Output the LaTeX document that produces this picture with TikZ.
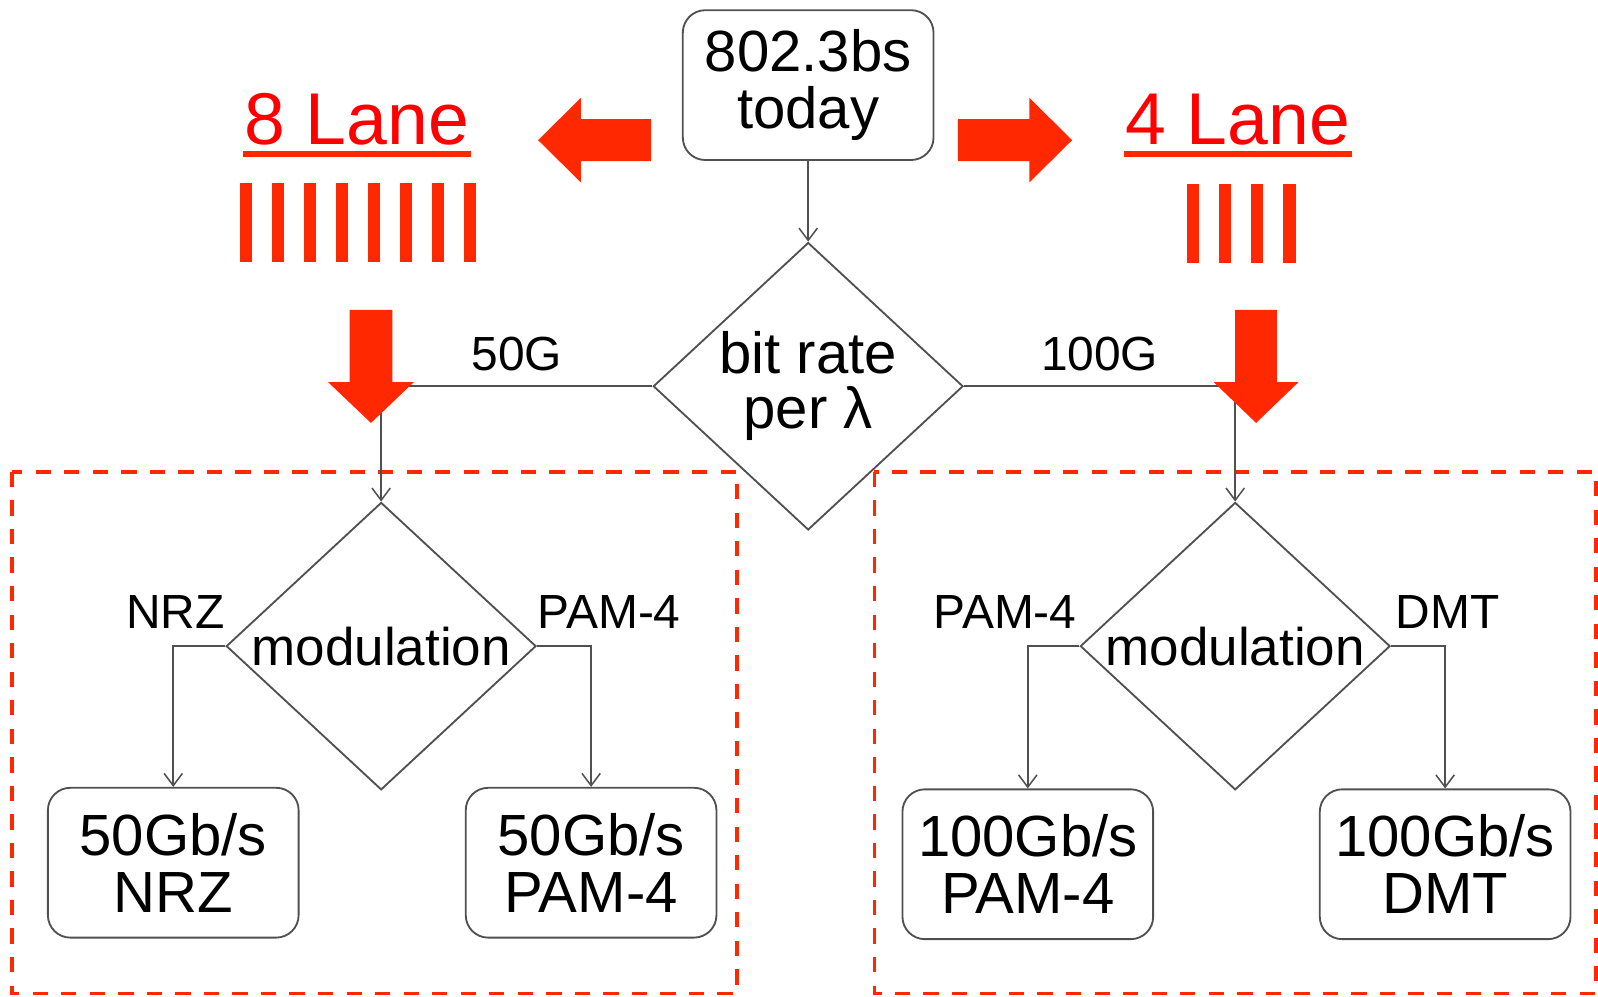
\documentclass[tikz,border=0pt]{standalone}
\usepackage{fontspec}
\setmainfont{Liberation Sans}
\usetikzlibrary{arrows.meta,shapes.geometric}
\definecolor{flagred}{RGB}{255,40,0}
\definecolor{textred}{RGB}{255,0,0}
\definecolor{edgegray}{RGB}{80,80,80}

\begin{document}
\begin{tikzpicture}[x=1pt,y=-1pt,
  roundbox/.style={draw=edgegray, line width=1.8pt, rounded corners=22pt, fill=white,
    minimum width=246pt, minimum height=147pt, inner sep=0pt, align=center,
    font=\fontsize{57pt}{56pt}\selectfont},
  decision/.style={draw=edgegray, line width=1.8pt, shape=diamond, aspect=1.08,
    minimum width=304pt, minimum height=282pt, inner sep=0pt, align=center},
  conn/.style={draw=edgegray, line width=1.5pt, -{Straight Barb[length=12pt,width=18pt]}},
  plain/.style={draw=edgegray, line width=1.5pt},
  branchlabel/.style={font=\fontsize{47pt}{50pt}\selectfont, inner sep=0pt},
  laneheading/.style={font=\fontsize{72pt}{80pt}\selectfont, text=textred, inner xsep=1.5pt, inner ysep=0pt, anchor=base},
  laneline/.style={draw=flagred, line width=5.5pt},
  groupframe/.style={draw=flagred, line width=3.5pt, dash pattern=on 15pt off 13pt},
  blockarrow/.style={fill=flagred}
]
% canvas
\fill[white] (0,0) rectangle (1568,978);
\useasboundingbox (0,0) rectangle (1568,978);

% dashed group frames
\draw[groupframe] (12,463) rectangle (723,975);
\draw[groupframe] (858,463) rectangle (1566,975);

% flow chart nodes
\node[roundbox] (today) at (793,83.5) {802.3bs\\today};
\node[decision, font=\fontsize{57pt}{54pt}\selectfont] (rate) at (793,379) {bit rate\\per λ};
\node[decision, font=\fontsize{52pt}{56pt}\selectfont] (modA) at (374,634) {modulation};
\node[decision, font=\fontsize{52pt}{56pt}\selectfont] (modB) at (1212,634) {modulation};
\node[roundbox] (nrz) at (170,846.5) {50Gb/s\\NRZ};
\node[roundbox] (pamA) at (580,846.5) {50Gb/s\\PAM-4};
\node[roundbox] (pamB) at (1008.5,848) {100Gb/s\\PAM-4};
\node[roundbox] (dmt) at (1418,848) {100Gb/s\\DMT};

% connectors
\draw[conn] (today.south) -- (rate.north);
\draw[conn] (rate.west) -| node[branchlabel, pos=0.25, anchor=base, yshift=15pt] (lbl50) {50G} (modA.north);
\draw[conn] (rate.east) -| node[branchlabel, pos=0.25, anchor=base, yshift=15pt] (lbl100) {100G} (modB.north);
\draw[conn] (modA.west) -| node[branchlabel, pos=0, anchor=base east, yshift=17pt] (lblnrz) {NRZ} (nrz.north);
\draw[conn] (modA.east) -| node[branchlabel, pos=0, anchor=base west, yshift=17pt] (lblpamA) {PAM-4} (pamA.north);
\draw[conn] (modB.west) -| node[branchlabel, pos=0, anchor=base east, yshift=17pt, xshift=-2pt] (lblpamB) {PAM-4} (pamB.north);
\draw[conn] (modB.east) -| node[branchlabel, pos=0, anchor=base west, yshift=17pt, xshift=4pt] (lbldmt) {DMT} (dmt.north);

% lane headings
\node[laneheading] (lane8) at (350,141.6) {8 Lane};
\node[laneheading] (lane4) at (1214.5,141.6) {4 Lane};
\draw[laneline] ([yshift=-9.5pt]lane8.base west) -- ([yshift=-9.5pt]lane8.base east);
\draw[laneline] ([yshift=-9.5pt]lane4.base west) -- ([yshift=-9.5pt]lane4.base east);

% lane bars
\foreach \i in {0,...,7}
  \fill[flagred] (235.5+31.4*\i,180) rectangle ++(11.4,77);
\foreach \i in {0,...,3}
  \fill[flagred] (1164.5+31.6*\i,181) rectangle ++(12,77);

% block arrows
\fill[blockarrow] (639,117) -- (570,117) -- (570,96) -- (528,137.5) -- (570,179) -- (570,158) -- (639,158) -- cycle;
\fill[blockarrow] (940,117) -- (1010,117) -- (1010,96) -- (1052,137.5) -- (1010,179) -- (1010,158) -- (940,158) -- cycle;
\fill[blockarrow] (343,304) -- (385,304) -- (385,375) -- (406,375) -- (364,415) -- (322,375) -- (343,375) -- cycle;
\fill[blockarrow] (1212,304) -- (1253,304) -- (1253,375) -- (1274,375) -- (1232.5,415) -- (1191,375) -- (1212,375) -- cycle;
\end{tikzpicture}
\end{document}
